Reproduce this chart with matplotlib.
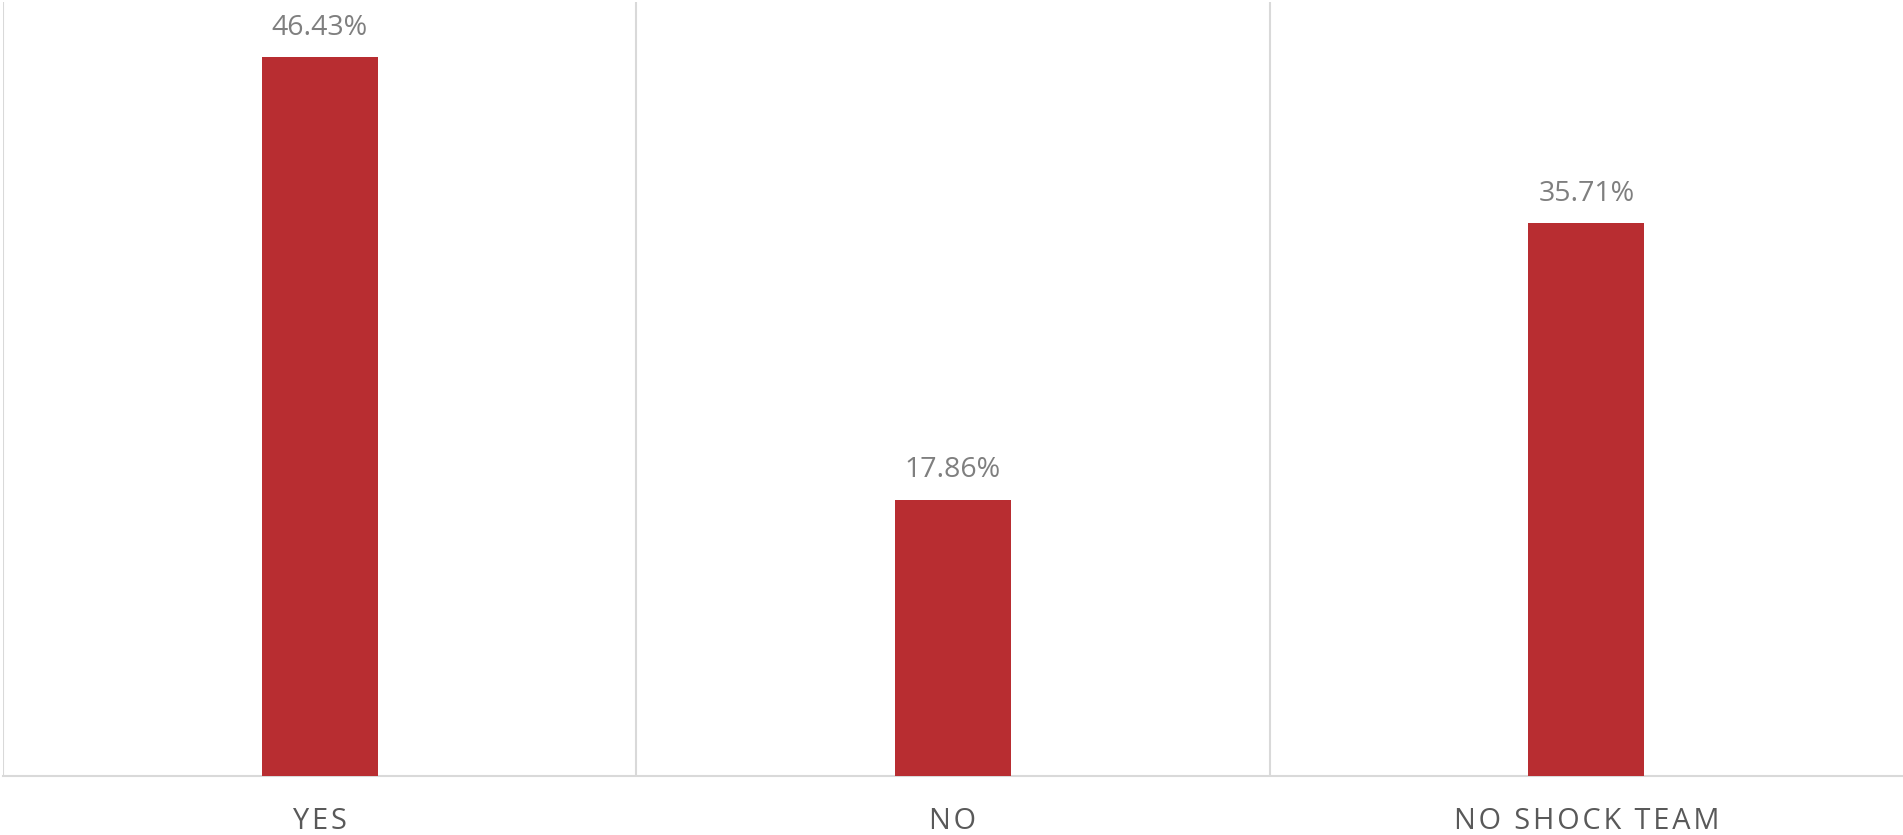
import matplotlib.pyplot as plt

# data
categories = ["YES", "NO", "NO SHOCK TEAM"]
values = [46.43, 17.86, 35.71]
value_labels = ["46.43%", "17.86%", "35.71%"]

bar_color = "#b82d31"
grid_color = "#d9d9d9"
fonts = ["Open Sans", "DejaVu Sans"]


def spaced(s):
    # no letter-spacing in matplotlib, so put hair spaces between letters
    return "\u200a".join(s)


fig = plt.figure(figsize=(19.03, 8.35), dpi=100)
ax = fig.add_axes([3 / 1903, 59 / 835, 1900 / 1903, 774 / 835])

x = list(range(len(categories)))
bars = ax.bar(x, values, width=0.183, color=bar_color, zorder=3)

ax.set_xlim(-0.5, len(categories) - 0.5)
ax.set_ylim(0, 50)

for b, lab in zip(bars, value_labels):
    ax.annotate(lab, (b.get_x() + b.get_width() / 2, b.get_height()),
                xytext=(0, 11), textcoords="offset points",
                ha="center", va="bottom", fontsize=20.5, color="#7f7f7f",
                family=fonts)

# category separators
for xs in [-0.5, 0.5, 1.5]:
    ax.axvline(xs, color=grid_color, lw=1.5, zorder=1)

for side in ["top", "right", "left"]:
    ax.spines[side].set_visible(False)
ax.spines["bottom"].set_color(grid_color)
ax.spines["bottom"].set_linewidth(1.5)

ax.set_yticks([])
ax.set_xticks(x)
ax.set_xticklabels([spaced(c) for c in categories], fontsize=20.8,
                   color="#595959", family=fonts)
ax.tick_params(axis="x", length=0, pad=22)

fig.savefig("out.png", dpi=100)
